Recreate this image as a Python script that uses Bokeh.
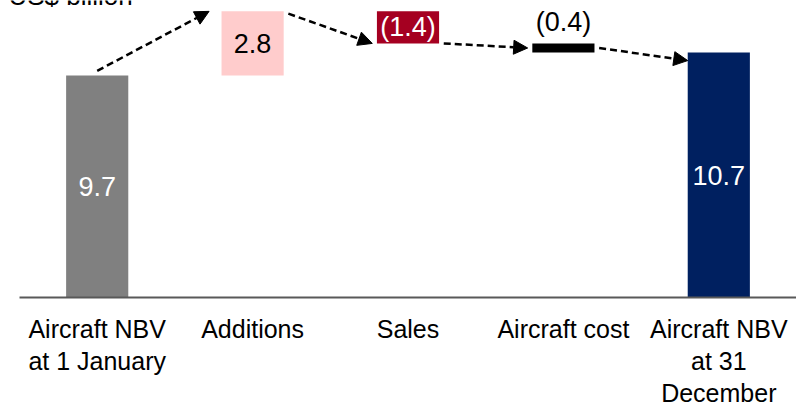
from bokeh.plotting import figure
from bokeh.models import ColumnDataSource, Range1d, Arrow, NormalHead
from bokeh.embed import file_html
from bokeh.resources import INLINE
from bokeh.core.properties import value

categories = ["Aircraft NBV\nat 1 January", "Additions", "Sales", "Aircraft cost",
              "Aircraft NBV\nat 31\nDecember"]
changes = [9.7, 2.8, -1.4, -0.4, 10.7]
value_labels = ["9.7", "2.8", "(1.4)", "(0.4)", "10.7"]
bar_colors = ["#808080", "#FFCCCC", "#A50021", "#000000", "#002060"]
label_colors = ["white", "black", "white", "black", "white"]
is_total = [True, False, False, False, True]
unit_title = "US$ billion"

# waterfall bottoms / tops
bottoms, tops = [], []
running = 0.0
for c, tot in zip(changes, is_total):
    if tot:
        bottoms.append(0.0)
        tops.append(c)
        running = c
    else:
        new = running + c
        bottoms.append(min(running, new))
        tops.append(max(running, new))
        running = new

n = len(categories)
xs = [i + 0.5 for i in range(n)]
mids = [(b + t) / 2 for b, t in zip(bottoms, tops)]
# label inside the bar, except for the thin "Aircraft cost" bar (above it)
label_y = [m if i != 3 else tops[i] for i, m in enumerate(mids)]
label_off = [0 if i != 3 else -21 for i in range(n)]

src = ColumnDataSource(dict(x=xs, bottom=bottoms, top=tops, color=bar_colors,
                            ly=label_y, lab=value_labels, lc=label_colors, loff=label_off))
cat_src = ColumnDataSource(dict(x=xs, y=[0.0] * n, cat=categories))

p = figure(width=796, height=402, output_backend="svg", toolbar_location=None,
           x_range=Range1d(-0.1223, 5.0), y_range=Range1d(-4.587, 12.975),
           min_border=0, x_axis_location=None, y_axis_location=None,
           outline_line_color=None)
p.xgrid.visible = False
p.ygrid.visible = False
p.background_fill_color = "white"
p.border_fill_color = "white"

FONT = value("Liberation Sans")
W = 0.4
p.vbar(x="x", bottom="bottom", top="top", width=W, color="color", source=src, line_color=None)
p.text(x="x", y="ly", text="lab", text_color="lc", y_offset="loff", source=src,
       text_align="center", text_baseline="middle", text_font_size="27px",
       text_font=FONT)

# baseline (category axis line)
p.segment(x0=[0.0], y0=[0.0], x1=[p.x_range.end], y1=[0.0], line_color="#595959", line_width=2)

# category labels
p.text(x="x", y="y", text="cat", source=cat_src, text_align="center", text_baseline="top",
       y_offset=17, text_font_size="25px", text_line_height=1.15, text_color="black",
       text_font=FONT)

# connector arrows (derived from bar geometry)
g = 0.03
lefts = [c - W / 2 for c in xs]
rights = [c + W / 2 for c in xs]
arrows = [
    (xs[0], tops[0] + 0.2, lefts[1] - 0.08, tops[1]),
    (rights[1] + g, tops[1] - 0.1, lefts[2] - g, bottoms[2]),
    (rights[2] + g, bottoms[2], lefts[3] - g, mids[3]),
    (rights[3] + g, mids[3], lefts[4], tops[4] - 0.35),
]
for x0, y0, x1, y1 in arrows:
    p.add_layout(Arrow(x_start=x0, y_start=y0, x_end=x1, y_end=y1,
                       line_color="black", line_width=2.5, line_dash="7 4",
                       end=NormalHead(size=14, fill_color="black", line_color="black")))

# unit title (partly above the visible area, as in the source)
p.text(x=[-0.071], y=[13.15], text=[unit_title], text_font_size="26px", text_font=FONT,
       text_color="black", text_baseline="alphabetic", text_align="left")

open("out.html", "w").write(file_html(p, INLINE))
